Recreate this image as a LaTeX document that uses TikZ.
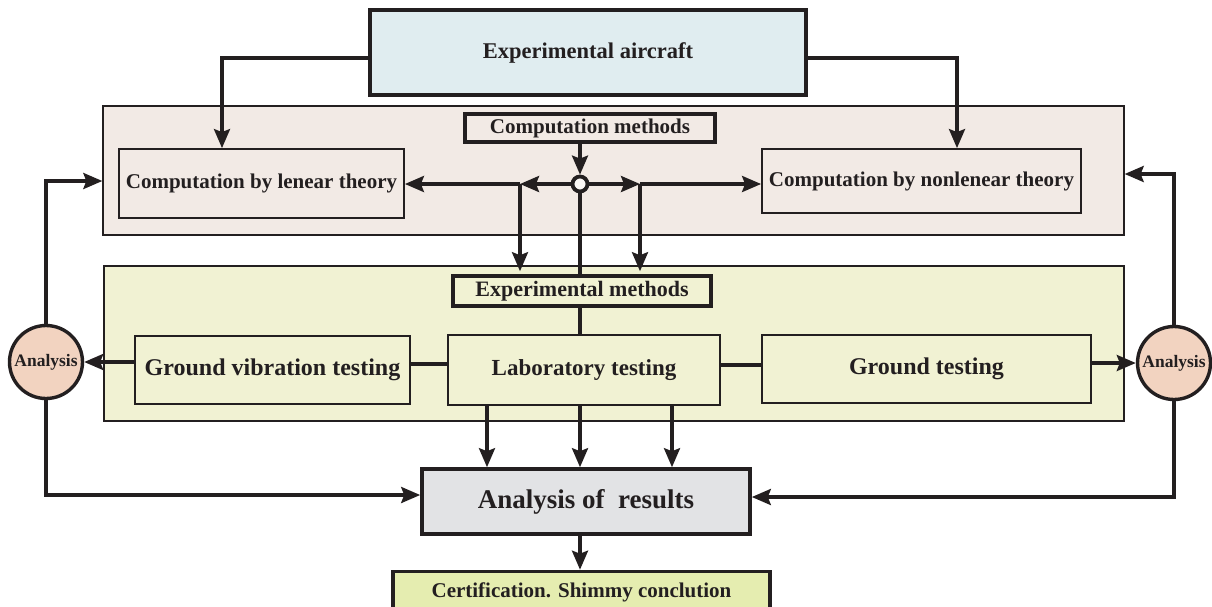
\documentclass[tikz,border=0pt]{standalone}
\usepackage{fontspec}
\setmainfont{Liberation Serif}
\usetikzlibrary{arrows.meta,calc}
\definecolor{ink}{HTML}{231F20}
\definecolor{airfill}{HTML}{E0EDF0}
\definecolor{pinkbg}{HTML}{F2EAE5}
\definecolor{greenbg}{HTML}{F1F2D3}
\definecolor{anfill}{HTML}{F2D3C0}
\definecolor{resfill}{HTML}{E2E3E5}
\definecolor{certfill}{HTML}{E5EDB0}
\tikzset{
  bg/.style={draw=ink, line width=1.3pt, inner sep=0pt},
  thinbox/.style={draw=ink, line width=1.8pt, inner sep=0pt, font=\bfseries\fontsize{21}{24}\selectfont, text=ink},
  thickbox/.style={draw=ink, line width=3.6pt, inner sep=0pt, font=\bfseries\fontsize{21}{24}\selectfont, text=ink},
  anacircle/.style={circle, draw=ink, line width=3.4pt, fill=anfill, inner sep=0pt, minimum size=73pt, font=\bfseries\fontsize{17.5}{20}\selectfont, text=ink},
  arr/.style={draw=ink, line width=3.4pt, -{Stealth[length=19pt,width=16pt,inset=3pt]}},
  ln/.style={draw=ink, line width=3.4pt},
}
\begin{document}
\begin{tikzpicture}[x=1pt,y=-1pt]
\useasboundingbox (0,0) rectangle (1212,606);
% backgrounds
\node[bg, fill=pinkbg, minimum width=1021pt, minimum height=129pt] (pinkbg) at (613.5,170.5) {};
\node[bg, fill=greenbg, minimum width=1020pt, minimum height=155pt] (greenbg) at (614,343.5) {};
% boxes
\node[thickbox, fill=airfill, minimum width=436pt, minimum height=85pt, font=\bfseries\fontsize{22.5}{26}\selectfont] (air) at (588,52.5) {Experimental aircraft};
\node[thickbox, fill=pinkbg, minimum width=250pt, minimum height=28pt] (cm) at (590,128) {Computation methods};
\node[thinbox, minimum width=285pt, minimum height=69pt] (lin) at (261.5,183.5) {Computation by lenear theory};
\node[thinbox, minimum width=319pt, minimum height=64pt] (nonlin) at (921.5,181) {Computation by nonlenear theory};
\node[circle, draw=ink, line width=3.8pt, fill=pinkbg!40!white, minimum size=15pt, inner sep=0pt] (j) at (580,184) {};
\node[thickbox, fill=greenbg, minimum width=258pt, minimum height=30pt, font=\bfseries\fontsize{22}{25}\selectfont] (em) at (582,291) {Experimental methods};
\node[thinbox, minimum width=275pt, minimum height=68pt, font=\bfseries\fontsize{24}{27}\selectfont] (gvt) at (272.5,370) {Ground vibration testing};
\node[thinbox, minimum width=272pt, minimum height=70pt, font=\bfseries\fontsize{23}{26}\selectfont] (lab) at (584,370) {Laboratory testing};
\node[thinbox, minimum width=329pt, minimum height=68pt, font=\bfseries\fontsize{24}{27}\selectfont] (gt) at (926.5,369) {Ground testing};
\node[anacircle] (anL) at (46,362) {Analysis};
\node[anacircle] (anR) at (1174,363) {Analysis};
\node[thickbox, fill=resfill, minimum width=328pt, minimum height=65pt, font=\bfseries\fontsize{27}{30}\selectfont] (res) at (586,501.5) {Analysis of\ \ results};
\node[thickbox, fill=certfill, minimum width=377pt, minimum height=38pt, text depth=0pt] (cert) at (581.5,590.5) {Certification. Shimmy conclution};
% branch coordinates
\coordinate (bL) at (520,184);
\coordinate (bR) at (640,184);
% connectors
\draw[arr] ([yshift=-5.5pt]air.west) -| ([xshift=-39.5pt]lin.north);
\draw[arr] ([yshift=-5.5pt]air.east) -| ([xshift=35.5pt]nonlin.north);
\draw[arr] (cm.south -| j) -- (j.north);
\draw[arr] (j.west) -- (bL);
\draw[arr] (bL) -- (bL -| lin.east);
\draw[arr] (j.east) -- (bR);
\draw[arr] (bR) -- (bR -| nonlin.west);
\draw[arr] (bL) -- ([yshift=3pt]bL |- em.north);
\draw[arr] (bR) -- ([yshift=3pt]bR |- em.north);
\draw[ln] (j.south) -- (j |- em.north);
\draw[ln] (j |- em.south) -- (j |- lab.north);
\draw[ln] ([yshift=6pt]gvt.east) -- ([yshift=6pt]gvt.east -| lab.west);
\draw[ln] ([yshift=5pt]lab.east) -- ([yshift=5pt]lab.east -| gt.west);
\draw[arr] (anL.east -| gvt.west) -- (anL.east);
\draw[arr] (anR.west -| gt.east) -- (anR.west);
\draw[arr] (anL.north) |- ([yshift=-10.5pt]pinkbg.west);
\draw[arr] (anR.north) |- ([yshift=-3.5pt]pinkbg.east);
\draw[arr] (anL.south) |- ([yshift=6.5pt]res.west);
\draw[arr] (anR.south) |- ([yshift=4.5pt]res.east);
\draw[arr] ([xshift=-97pt]lab.south) -- ([xshift=-97pt]lab.south |- res.north);
\draw[arr] (lab.south -| j) -- (res.north -| j);
\draw[arr] ([xshift=88pt]lab.south) -- ([xshift=88pt]lab.south |- res.north);
\draw[arr] (res.south -| j) -- (cert.north -| j);
\end{tikzpicture}
\end{document}
